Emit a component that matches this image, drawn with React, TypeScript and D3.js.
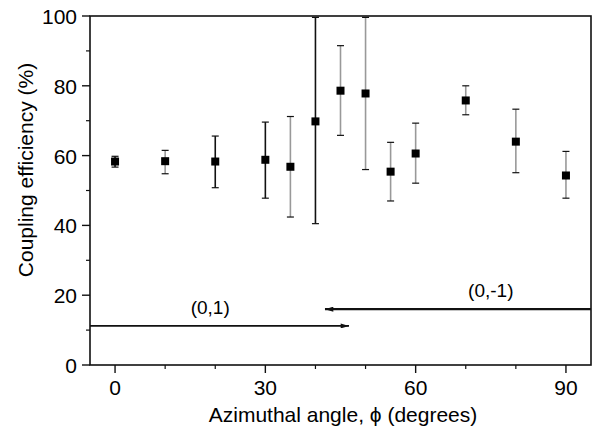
import React from 'react';
import * as d3 from 'd3';

// measured coupling efficiency vs azimuthal angle
const angles = [0, 10, 20, 30, 35, 40, 45, 50, 55, 60, 70, 80, 90];
const efficiency = [58.3, 58.4, 58.3, 58.8, 56.8, 69.8, 78.6, 77.8, 55.4, 60.6, 75.8, 64.0, 54.3];
const errUpper = [59.8, 61.5, 65.6, 69.6, 71.2, 99.6, 91.5, 99.6, 63.8, 69.3, 80.0, 73.3, 61.2];
const errLower = [56.7, 54.8, 50.8, 47.8, 42.4, 40.5, 65.8, 56.0, 47.0, 52.1, 71.7, 55.1, 47.8];

// mode arrows
const modeLabels = ['(0,1)', '(0,-1)'];
const modeFrom = [-5, 95];
const modeTo = [46.7, 41.9];
const modeLevel = [11.2, 16.0];
const modeLabelX = [19, 75];

const xTicks = [0, 30, 60, 90];
const xMinor = [10, 20, 40, 50, 70, 80];
const yTicks = [0, 20, 40, 60, 80, 100];
const yMinor = [10, 30, 50, 70, 90];

const darkBars = [0, 2, 3, 5];

const left = 90, top = 16, right = 591, bottom = 365;
const font = 'Liberation Sans, Arial, sans-serif';

export default function App() {
  const x = d3.scaleLinear().domain([-5, 95]).range([left, right]);
  const y = d3.scaleLinear().domain([0, 100]).range([bottom, top]);

  return (
    <svg width={600} height={428} style={{ position: 'absolute', left: 0, top: 0, background: '#fff' }}>
      <defs>
        <marker id="head" viewBox="0 0 10 6" refX="10" refY="3" markerWidth="9" markerHeight="5" orient="auto-start-reverse" markerUnits="userSpaceOnUse">
          <path d="M0,0 L10,3 L0,6 Z" fill="#111" />
        </marker>
      </defs>
      <rect x={left} y={top} width={right - left} height={bottom - top} fill="none" stroke="#111" strokeWidth={1.6} />

      {yTicks.map(t => (
        <g key={'y' + t}>
          <line x1={left - 8} x2={left} y1={y(t)} y2={y(t)} stroke="#111" strokeWidth={1.4} />
          <text x={77} y={y(t) + 8} textAnchor="end" fontFamily={font} fontSize={21}>{t}</text>
        </g>
      ))}
      {yMinor.map(t => (
        <line key={'ym' + t} x1={left - 4} x2={left} y1={y(t)} y2={y(t)} stroke="#111" strokeWidth={1.2} />
      ))}
      {xTicks.map(t => (
        <g key={'x' + t}>
          <line x1={x(t)} x2={x(t)} y1={bottom} y2={bottom + 8} stroke="#111" strokeWidth={1.4} />
          <text x={x(t)} y={395} textAnchor="middle" fontFamily={font} fontSize={21}>{t}</text>
        </g>
      ))}
      {xMinor.map(t => (
        <line key={'xm' + t} x1={x(t)} x2={x(t)} y1={bottom} y2={bottom + 4} stroke="#111" strokeWidth={1.2} />
      ))}

      <text x={343} y={422} textAnchor="middle" fontFamily={font} fontSize={21}>Azimuthal angle, ϕ (degrees)</text>
      <text transform="translate(33,170) rotate(-90)" textAnchor="middle" fontFamily={font} fontSize={21}>Coupling efficiency (%)</text>

      {angles.map((a, i) => {
        const c = darkBars.includes(i) ? '#111' : '#999';
        return (
          <g key={'p' + i}>
            <line x1={x(a)} x2={x(a)} y1={y(errUpper[i])} y2={y(errLower[i])} stroke={c} strokeWidth={1.6} />
            <line x1={x(a) - 3.5} x2={x(a) + 3.5} y1={y(errUpper[i])} y2={y(errUpper[i])} stroke="#111" strokeWidth={1.2} />
            <line x1={x(a) - 3.5} x2={x(a) + 3.5} y1={y(errLower[i])} y2={y(errLower[i])} stroke="#111" strokeWidth={1.2} />
            <rect x={x(a) - 4} y={y(efficiency[i]) - 4} width={8} height={8} fill="#000" />
          </g>
        );
      })}

      {modeLabels.map((m, i) => (
        <g key={m}>
          <line x1={x(modeFrom[i])} x2={x(modeTo[i])} y1={y(modeLevel[i])} y2={y(modeLevel[i])} stroke="#111" strokeWidth={i === 0 ? 1.8 : 2.4} markerEnd="url(#head)" />
          <text x={x(modeLabelX[i])} y={y(modeLevel[i]) - 12} textAnchor="middle" fontFamily={font} fontSize={19}>{m}</text>
        </g>
      ))}
    </svg>
  );
}
